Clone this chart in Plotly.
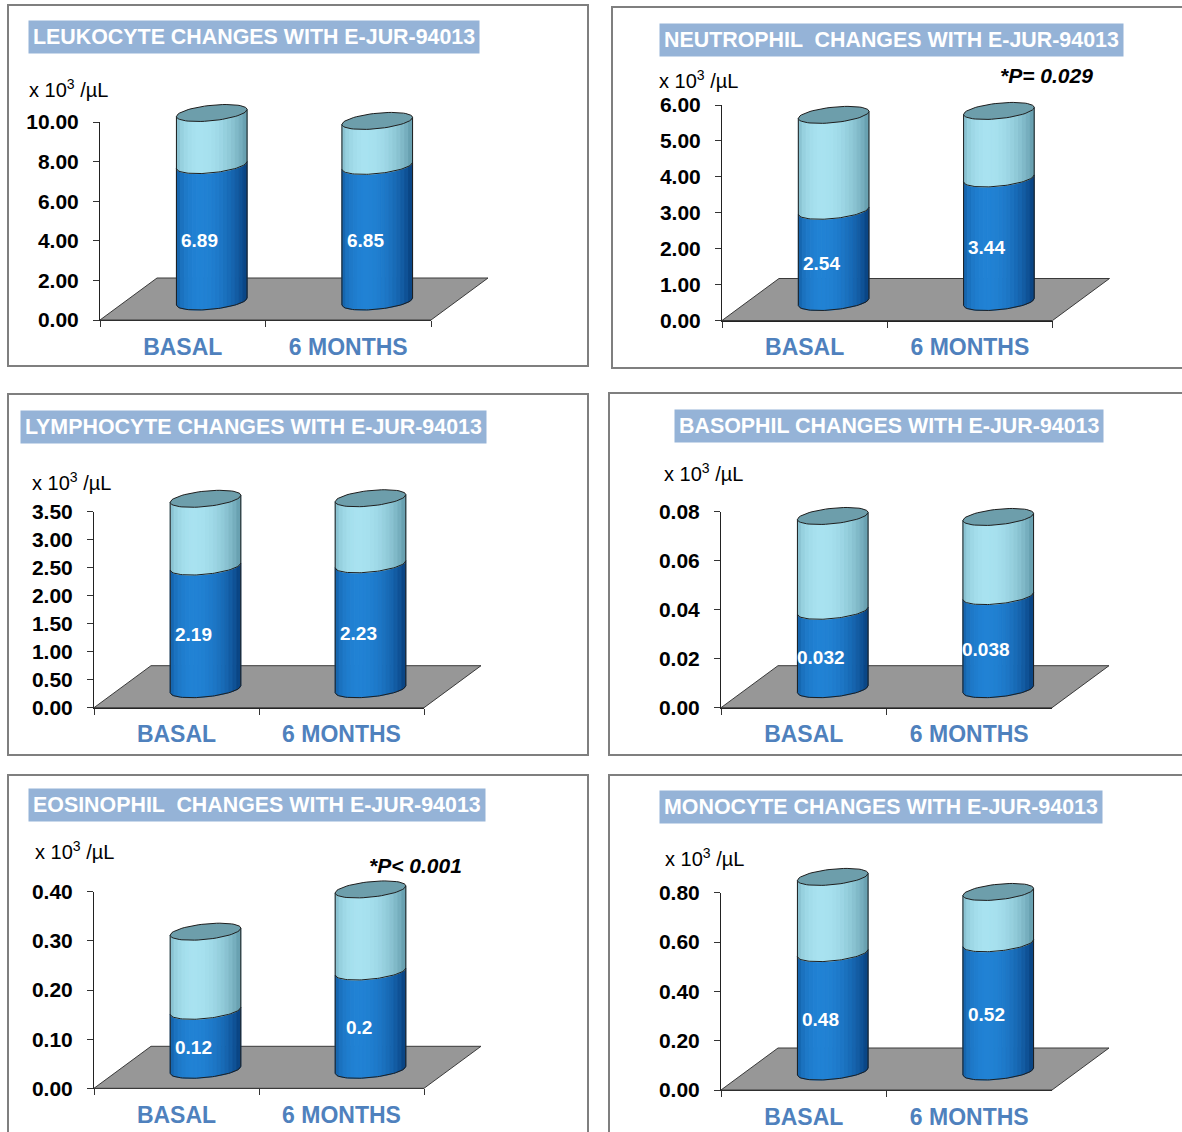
import math
import plotly.graph_objects as go

W, H = 1182, 1132

categories = ["BASAL", "6 MONTHS"]

# Mean counts (x10^3/µL, dark band) and top of the light band for each cell type
leukocyte_mean = [6.89, 6.85]
leukocyte_upper = [9.52, 9.12]
neutrophil_mean = [2.54, 3.44]
neutrophil_upper = [5.21, 5.32]
lymphocyte_mean = [2.19, 2.23]
lymphocyte_upper = [3.40, 3.41]
basophil_mean = [0.032, 0.038]
basophil_upper = [0.0707, 0.0703]
eosinophil_mean = [0.12, 0.2]
eosinophil_upper = [0.281, 0.367]
monocyte_mean = [0.48, 0.52]
monocyte_upper = [0.789, 0.728]

titles = [
    "LEUKOCYTE CHANGES WITH E-JUR-94013",
    "NEUTROPHIL  CHANGES WITH E-JUR-94013",
    "LYMPHOCYTE CHANGES WITH E-JUR-94013",
    "BASOPHIL CHANGES WITH E-JUR-94013",
    "EOSINOPHIL  CHANGES WITH E-JUR-94013",
    "MONOCYTE CHANGES WITH E-JUR-94013",
]
axis_max = [10, 6, 3.5, 0.08, 0.4, 0.8]
axis_step = [2, 1, 0.5, 0.02, 0.1, 0.2]
p_labels = [None, "*P= 0.029", None, None, "*P< 0.001", None]

means = [leukocyte_mean, neutrophil_mean, lymphocyte_mean,
         basophil_mean, eosinophil_mean, monocyte_mean]
uppers = [leukocyte_upper, neutrophil_upper, lymphocyte_upper,
          basophil_upper, eosinophil_upper, monocyte_upper]

# Panel placement in pixels: axis origin, top tick, floor front-right end,
# frame box, title position, unit label position, note position
panels = [
    dict(ox=100, oy=320, ytop=122, fr=431, box=(8, 5, 588, 366),
         title=(28, 36.5), unit=(27, 88), note=None),
    dict(ox=722, oy=320.5, ytop=105, fr=1052.5, box=(612, 7, 1195, 368),
         title=(659, 39.5), unit=(657, 79), note=(1046, 75)),
    dict(ox=94, oy=707.7, ytop=511.7, fr=424, box=(8, 394, 588, 755),
         title=(20, 426.7), unit=(30, 482), note=None),
    dict(ox=721, oy=707.7, ytop=511.7, fr=1052, box=(609, 393, 1195, 755),
         title=(674, 425.5), unit=(662, 472), note=None),
    dict(ox=94, oy=1088.3, ytop=891.7, fr=424, box=(8, 775, 588, 1145),
         title=(28, 805.5), unit=(33, 850), note=(415, 865)),
    dict(ox=721, oy=1090, ytop=892.7, fr=1052, box=(609, 775, 1195, 1145),
         title=(659, 807), unit=(663, 857), note=None),
]

# 3-D look (pixels)
DEPTH_X, DEPTH_Y = 57, 42          # floor depth
BAR_SHIFT_X, BAR_BASE_Y = 29, 18.5  # cylinders stand half-way into the floor
RX, RY, TILT = 35.3, 7.75, 3.5      # cylinder ellipse radii and tilt
N_STRIPS = 18
LIGHT_ANGLE = -0.3

FONT = "Liberation Sans, Arial, sans-serif"
DARK_EDGE, DARK_HI = (10, 69, 133), (33, 130, 212)
LIGHT_EDGE, LIGHT_HI = (104, 160, 176), (168, 226, 240)
CAP_COLOR = "#6d9eab"
FLOOR_COLOR = "#979797"
OUTLINE = "#1e1e1e"
TITLE_BG = "#95b3d7"
CAT_COLOR = "#4f81bd"


def rgb(c):
    return "rgb(%d,%d,%d)" % tuple(int(round(v)) for v in c)


def shade(edge, hi, u):
    th = math.asin(max(-1.0, min(1.0, u)))
    f = max(0.0, math.cos(th - LIGHT_ANGLE)) ** 1.2
    return rgb([e + (h - e) * f for e, h in zip(edge, hi)])


def arc(xs):
    """Vertical offsets of the front half of a level ellipse."""
    return [-RY * math.sqrt(max(0.0, 1 - (x / RX) ** 2)) + TILT * x / RX for x in xs]


def px(x):
    return x / W


def py(y):
    return 1 - y / H


fig = go.Figure()
layout = dict(
    width=W, height=H, margin=dict(l=0, r=0, t=0, b=0),
    paper_bgcolor="white", plot_bgcolor="rgba(0,0,0,0)",
    showlegend=False, template="none",
)
shapes, annotations = [], []

for k, g in enumerate(panels):
    a_id, b_id = 2 * k + 1, 2 * k + 2
    ax_a = "" if a_id == 1 else str(a_id)
    ax_b = str(b_id)
    ymax, step = axis_max[k], axis_step[k]
    cw = (g["fr"] - g["ox"]) / 2.0           # pixels per category
    ppu = (g["oy"] - g["ytop"]) / ymax        # pixels per value unit

    # visible frame axes: value scale and category boundaries
    nt = int(round(ymax / step)) + 1
    tickvals = [round(i * step, 6) for i in range(nt)]
    layout["xaxis" + ax_a] = dict(
        domain=[px(g["ox"]), px(g["fr"])], anchor="y" + ax_a,
        type="category", categoryorder="array", categoryarray=categories,
        range=[-0.5, 1.5], tickson="boundaries", ticks="outside", ticklen=6,
        tickcolor="#333", showline=True, linecolor="#222", linewidth=1,
        showgrid=False, zeroline=False, fixedrange=True, ticklabelstandoff=6,
        tickfont=dict(family=FONT, size=23, color=CAT_COLOR, weight="bold"),
    )
    layout["yaxis" + ax_a] = dict(
        domain=[py(g["oy"]), py(g["ytop"])], anchor="x" + ax_a,
        range=[0, ymax], tickvals=tickvals,
        ticktext=["%.2f" % v for v in tickvals],
        ticks="outside", ticklen=6, tickcolor="#333",
        showline=True, linecolor="#222", linewidth=1,
        showgrid=False, zeroline=False, fixedrange=True, ticklabelstandoff=10,
        tickfont=dict(family=FONT, size=21, color="black", weight="bold"),
    )
    fig.add_trace(go.Scatter(
        x=categories, y=means[k], mode="markers", marker=dict(size=1, opacity=0),
        hoverinfo="skip", xaxis="x" + ax_a, yaxis="y" + ax_a))

    # drawing axes with the same scale, extended to hold the 3-D floor and caps
    extra_r, extra_t, extra_b, extra_l = DEPTH_X + 12, 48, 4, 4
    layout["xaxis" + ax_b] = dict(
        domain=[px(g["ox"] - extra_l), px(g["fr"] + extra_r)], anchor="y" + ax_b,
        range=[-0.5 - extra_l / cw, 1.5 + extra_r / cw], visible=False, fixedrange=True)
    layout["yaxis" + ax_b] = dict(
        domain=[py(g["oy"] + extra_b), py(g["ytop"] - extra_t)], anchor="x" + ax_b,
        range=[-extra_b / ppu, ymax + extra_t / ppu], visible=False, fixedrange=True)
    xr, yr = "x" + ax_b, "y" + ax_b

    # floor
    fx = [-0.5, 1.5, 1.5 + DEPTH_X / cw, -0.5 + DEPTH_X / cw, -0.5]
    fy = [0, 0, DEPTH_Y / ppu, DEPTH_Y / ppu, 0]
    fig.add_trace(go.Scatter(
        x=fx, y=fy, mode="lines", fill="toself", fillcolor=FLOOR_COLOR,
        line=dict(color="#3a3a3a", width=1), hoverinfo="skip", xaxis=xr, yaxis=yr))

    centers = [i + BAR_SHIFT_X / cw for i in range(len(categories))]

    def to_data(cx, v, dxp, dyp):
        return cx + dxp / cw, v + (BAR_BASE_Y + dyp) / ppu

    # shaded cylinder bodies, one trace per strip shared by both bars
    for seg in ("dark", "light"):
        edge, hi = (DARK_EDGE, DARK_HI) if seg == "dark" else (LIGHT_EDGE, LIGHT_HI)
        for j in range(N_STRIPS):
            x0 = -RX + 2 * RX * j / N_STRIPS
            x1 = -RX + 2 * RX * (j + 1) / N_STRIPS
            xs = [x0 + (x1 - x0) * t / 4 for t in range(5)]
            ys = arc(xs)
            col = shade(edge, hi, ((x0 + x1) / 2) / RX)
            tx, ty = [], []
            for i, cx in enumerate(centers):
                v_lo = 0 if seg == "dark" else means[k][i]
                v_hi = means[k][i] if seg == "dark" else uppers[k][i]
                pts = [to_data(cx, v_lo, a, b) for a, b in zip(xs, ys)]
                pts += [to_data(cx, v_hi, a, b) for a, b in zip(xs[::-1], ys[::-1])]
                pts.append(pts[0])
                tx += [p[0] for p in pts] + [None]
                ty += [p[1] for p in pts] + [None]
            fig.add_trace(go.Scatter(
                x=tx, y=ty, mode="lines", fill="toself", fillcolor=col,
                line=dict(color=col, width=1), hoverinfo="skip", xaxis=xr, yaxis=yr))

    # outlines: sides, base arc and band boundary
    full = [-RX + 2 * RX * t / 40 for t in range(41)]
    ox_, oy_ = [], []
    for i, cx in enumerate(centers):
        for side in (-1, 1):
            p0 = to_data(cx, 0, side * RX, side * TILT)
            p1 = to_data(cx, uppers[k][i], side * RX, side * TILT)
            ox_ += [p0[0], p1[0], None]
            oy_ += [p0[1], p1[1], None]
        for v in (0, means[k][i]):
            pts = [to_data(cx, v, a, b) for a, b in zip(full, arc(full))]
            ox_ += [p[0] for p in pts] + [None]
            oy_ += [p[1] for p in pts] + [None]
    fig.add_trace(go.Scatter(
        x=ox_, y=oy_, mode="lines", line=dict(color=OUTLINE, width=1),
        hoverinfo="skip", xaxis=xr, yaxis=yr))

    # top caps
    cxs, cys = [], []
    for i, cx in enumerate(centers):
        pts = []
        for t in range(61):
            th = 2 * math.pi * t / 60
            pts.append(to_data(cx, uppers[k][i], RX * math.cos(th),
                               RY * math.sin(th) + TILT * math.cos(th)))
        cxs += [p[0] for p in pts] + [None]
        cys += [p[1] for p in pts] + [None]
    fig.add_trace(go.Scatter(
        x=cxs, y=cys, mode="lines", fill="toself", fillcolor=CAP_COLOR,
        line=dict(color=OUTLINE, width=1), hoverinfo="skip", xaxis=xr, yaxis=yr))

    # value labels inside the dark band
    for i in range(len(categories)):
        v = means[k][i]
        annotations.append(dict(
            x=i, y=v / 2, xref=xr, yref=yr, text=str(v), showarrow=False,
            xshift=BAR_SHIFT_X - 12, yshift=BAR_BASE_Y - 7,
            font=dict(family=FONT, size=19, color="white", weight="bold")))

    # frame, title, unit label, note
    bx0, by0, bx1, by1 = g["box"]
    shapes.append(dict(type="rect", xref="paper", yref="paper",
                       x0=px(bx0), x1=px(bx1), y0=py(by1), y1=py(by0),
                       line=dict(color="#7f7f7f", width=2), fillcolor="rgba(0,0,0,0)"))
    annotations.append(dict(
        x=px(g["title"][0]), y=py(g["title"][1]), xref="paper", yref="paper",
        xanchor="left", yanchor="middle", showarrow=False, text=titles[k],
        bgcolor=TITLE_BG, borderpad=4,
        font=dict(family=FONT, size=21.4, color="white", weight="bold")))
    annotations.append(dict(
        x=px(g["unit"][0]), y=py(g["unit"][1]), xref="paper", yref="paper",
        xanchor="left", yanchor="middle", showarrow=False,
        text="x 10<sup>3</sup> /µL",
        font=dict(family=FONT, size=20, color="black")))
    if p_labels[k]:
        annotations.append(dict(
            x=px(g["note"][0]), y=py(g["note"][1]), xref="paper", yref="paper",
            xanchor="center", yanchor="middle", showarrow=False,
            text="<b><i>%s</i></b>" % p_labels[k],
            font=dict(family=FONT, size=21, color="black")))

layout["shapes"] = shapes
layout["annotations"] = annotations
fig.update_layout(**layout)
fig.write_html("out.html")
